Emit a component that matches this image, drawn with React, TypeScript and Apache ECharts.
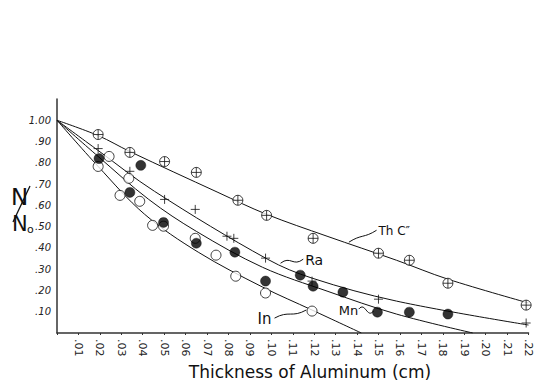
import React, { useEffect, useRef } from "react";
import * as echarts from "echarts";

// ---- measured points (thickness cm, N/No) ----
const thX = [0.0192, 0.034, 0.0502, 0.065, 0.0844, 0.0978, 0.1195, 0.15, 0.1644, 0.1824, 0.2189];
const thY = [0.933, 0.849, 0.806, 0.755, 0.624, 0.553, 0.445, 0.375, 0.342, 0.234, 0.131];

const raX = [0.0192, 0.034, 0.0502, 0.0645, 0.0793, 0.0825, 0.0973, 0.119, 0.15, 0.2189];
const raY = [0.867, 0.76, 0.628, 0.581, 0.455, 0.445, 0.352, 0.244, 0.159, 0.047];

const mnX = [0.0196, 0.0391, 0.034, 0.0497, 0.065, 0.083, 0.0973, 0.1135, 0.1195, 0.1334, 0.1495, 0.1644, 0.1824];
const mnY = [0.82, 0.788, 0.661, 0.52, 0.422, 0.38, 0.244, 0.272, 0.22, 0.192, 0.098, 0.098, 0.089];

const inX = [0.0243, 0.0192, 0.0335, 0.0294, 0.0386, 0.0446, 0.0497, 0.0645, 0.0742, 0.0834, 0.0973, 0.119];
const inY = [0.83, 0.783, 0.727, 0.647, 0.619, 0.506, 0.502, 0.445, 0.366, 0.267, 0.188, 0.103];

// ---- hand-drawn curves ----
const thCurveX = [0, 0.0192, 0.034, 0.0751, 0.0978, 0.126, 0.1584, 0.1824, 0.22];
const thCurveY = [1.0, 0.928, 0.853, 0.661, 0.558, 0.455, 0.342, 0.253, 0.141];

const raCurveX = [0, 0.0192, 0.0455, 0.0982, 0.119, 0.1584, 0.22];
const raCurveY = [1.0, 0.858, 0.666, 0.347, 0.258, 0.15, 0.0375];

const mnCurveX = [0, 0.0192, 0.0428, 0.065, 0.0959, 0.126, 0.1584, 0.194];
const mnCurveY = [1.0, 0.83, 0.628, 0.478, 0.309, 0.197, 0.089, 0.0];

const inCurveX = [0, 0.0192, 0.0409, 0.0659, 0.0959, 0.119, 0.142];
const inCurveY = [1.0, 0.783, 0.558, 0.38, 0.216, 0.108, 0.0];

// ---- curve labels (text, anchor in data units, leader from -> to) ----
const curveLabels = ["Th C\u2033", "Ra", "Mn", "In"];
const labelPos = [[0.15, 0.478], [0.1158, 0.342], [0.1315, 0.108], [0.0936, 0.066]];
const leaderFrom = [[0.1362, 0.427], [0.1043, 0.328], [0.1408, 0.1125], [0.1015, 0.07]];
const leaderTo = [[0.1491, 0.483], [0.1149, 0.347], [0.1477, 0.103], [0.1163, 0.108]];
const labelSizes = [12, 14, 13, 15];

const zip = (xs: number[], ys: number[]) => xs.map((x, i) => [x, ys[i]]);

const circlePlus = "path://M10,0A10,10,0,1,1,10,20A10,10,0,1,1,10,0ZM10,0L10,20M0,10L20,10";
const plusSym = "path://M5,0L5,10M0,5L10,5";

const FONT = "DejaVu Sans";

export default function App() {
  const ref = useRef<HTMLDivElement>(null);
  useEffect(() => {
    if (!ref.current) return;
    const chart = echarts.init(ref.current, undefined, { renderer: "svg" });
    const curveStyle = { color: "#111", width: 1 };
    const lineSeries = (data: number[][]) => ({
      type: "line",
      data,
      showSymbol: false,
      smooth: 0.35,
      lineStyle: curveStyle,
      z: 2,
      silent: true,
    });
    chart.setOption({
      animation: false,
      backgroundColor: "#fff",
      grid: { left: 57, right: 1, top: 99, bottom: 52 },
      xAxis: {
        type: "value",
        min: 0,
        max: 0.22,
        interval: 0.01,
        splitLine: { show: false },
        axisLine: { lineStyle: { color: "#333", width: 1.5 } },
        axisTick: { show: true, length: 2, lineStyle: { color: "#333" } },
        axisLabel: {
          rotate: -90,
          margin: 6,
          fontSize: 11,
          fontFamily: FONT,
          color: "#222",
          formatter: (v: number) => {
            const n = Math.round(v * 100);
            if (n === 0) return "";
            return "." + (n < 10 ? "0" + n : String(n));
          },
        },
      },
      yAxis: {
        type: "value",
        min: 0,
        max: 1.1,
        interval: 0.1,
        splitLine: { show: false },
        axisLine: { show: true, lineStyle: { color: "#333", width: 1.5 } },
        axisTick: { show: false },
        axisLabel: {
          margin: 6,
          fontSize: 10,
          fontStyle: "italic",
          fontFamily: FONT,
          color: "#222",
          formatter: (v: number) => {
            const n = Math.round(v * 100);
            if (n === 0 || n > 100) return "";
            if (n === 100) return "1.00";
            return "." + String(n);
          },
        },
      },
      series: [
        lineSeries(zip(thCurveX, thCurveY)),
        lineSeries(zip(raCurveX, raCurveY)),
        lineSeries(zip(mnCurveX, mnCurveY)),
        lineSeries(zip(inCurveX, inCurveY)),
        {
          type: "scatter",
          data: zip(thX, thY),
          symbol: circlePlus,
          symbolSize: 10,
          itemStyle: { color: "#fff", borderColor: "#111", borderWidth: 1 },
          z: 5,
        },
        {
          type: "scatter",
          data: zip(raX, raY),
          symbol: plusSym,
          symbolSize: 9,
          itemStyle: { color: "rgba(0,0,0,0)", borderColor: "#111", borderWidth: 1 },
          z: 5,
        },
        {
          type: "scatter",
          data: zip(inX, inY),
          symbol: "circle",
          symbolSize: 10,
          itemStyle: { color: "#fff", borderColor: "#111", borderWidth: 1 },
          z: 5,
        },
        {
          type: "scatter",
          data: zip(mnX, mnY),
          symbol: "circle",
          symbolSize: 10,
          itemStyle: { color: "#000", borderColor: "#000", borderWidth: 0.5 },
          z: 6,
        },
      ],
    });

    const px = (p: number[]) => chart.convertToPixel({ gridIndex: 0 }, p) as number[];
    const graphics: any[] = [];
    curveLabels.forEach((t, i) => {
      const lp = px(labelPos[i]);
      const a = px(leaderFrom[i]);
      const b = px(leaderTo[i]);
      const dx = b[0] - a[0];
      graphics.push({
        type: "text",
        x: lp[0],
        y: lp[1],
        style: {
          text: t,
          fontSize: labelSizes[i],
          fontFamily: FONT,
          fill: "#111",
          verticalAlign: "middle",
          textAlign: "left",
        },
      });
      graphics.push({
        type: "bezierCurve",
        shape: {
          x1: a[0],
          y1: a[1],
          x2: b[0],
          y2: b[1],
          cpx1: a[0] + dx * 0.45,
          cpy1: a[1] - 8,
          cpx2: b[0] - dx * 0.45,
          cpy2: b[1] + 8,
        },
        style: { stroke: "#111", lineWidth: 1, fill: "none" },
      });
    });
    // axis titles
    graphics.push({
      type: "text",
      x: 310,
      y: 372,
      style: {
        text: "Thickness of Aluminum (cm)",
        fontSize: 17,
        fontFamily: FONT,
        fill: "#111",
        textAlign: "center",
        verticalAlign: "middle",
      },
    });
    graphics.push({
      type: "text",
      x: 11,
      y: 185,
      style: { text: "N", fontSize: 23, fontFamily: FONT, fill: "#111" },
    });
    graphics.push({
      type: "line",
      shape: { x1: 30, y1: 186, x2: 13, y2: 222 },
      style: { stroke: "#111", lineWidth: 1.3 },
    });
    graphics.push({
      type: "text",
      x: 12,
      y: 213,
      style: { text: "N", fontSize: 21, fontFamily: FONT, fill: "#111" },
    });
    graphics.push({
      type: "text",
      x: 27,
      y: 224,
      style: { text: "o", fontSize: 11, fontFamily: FONT, fill: "#111" },
    });
    chart.setOption({ graphic: graphics });

    return () => chart.dispose();
  }, []);
  return <div ref={ref} style={{ width: 534, height: 385, position: "absolute", left: 0, top: 0 }} />;
}
